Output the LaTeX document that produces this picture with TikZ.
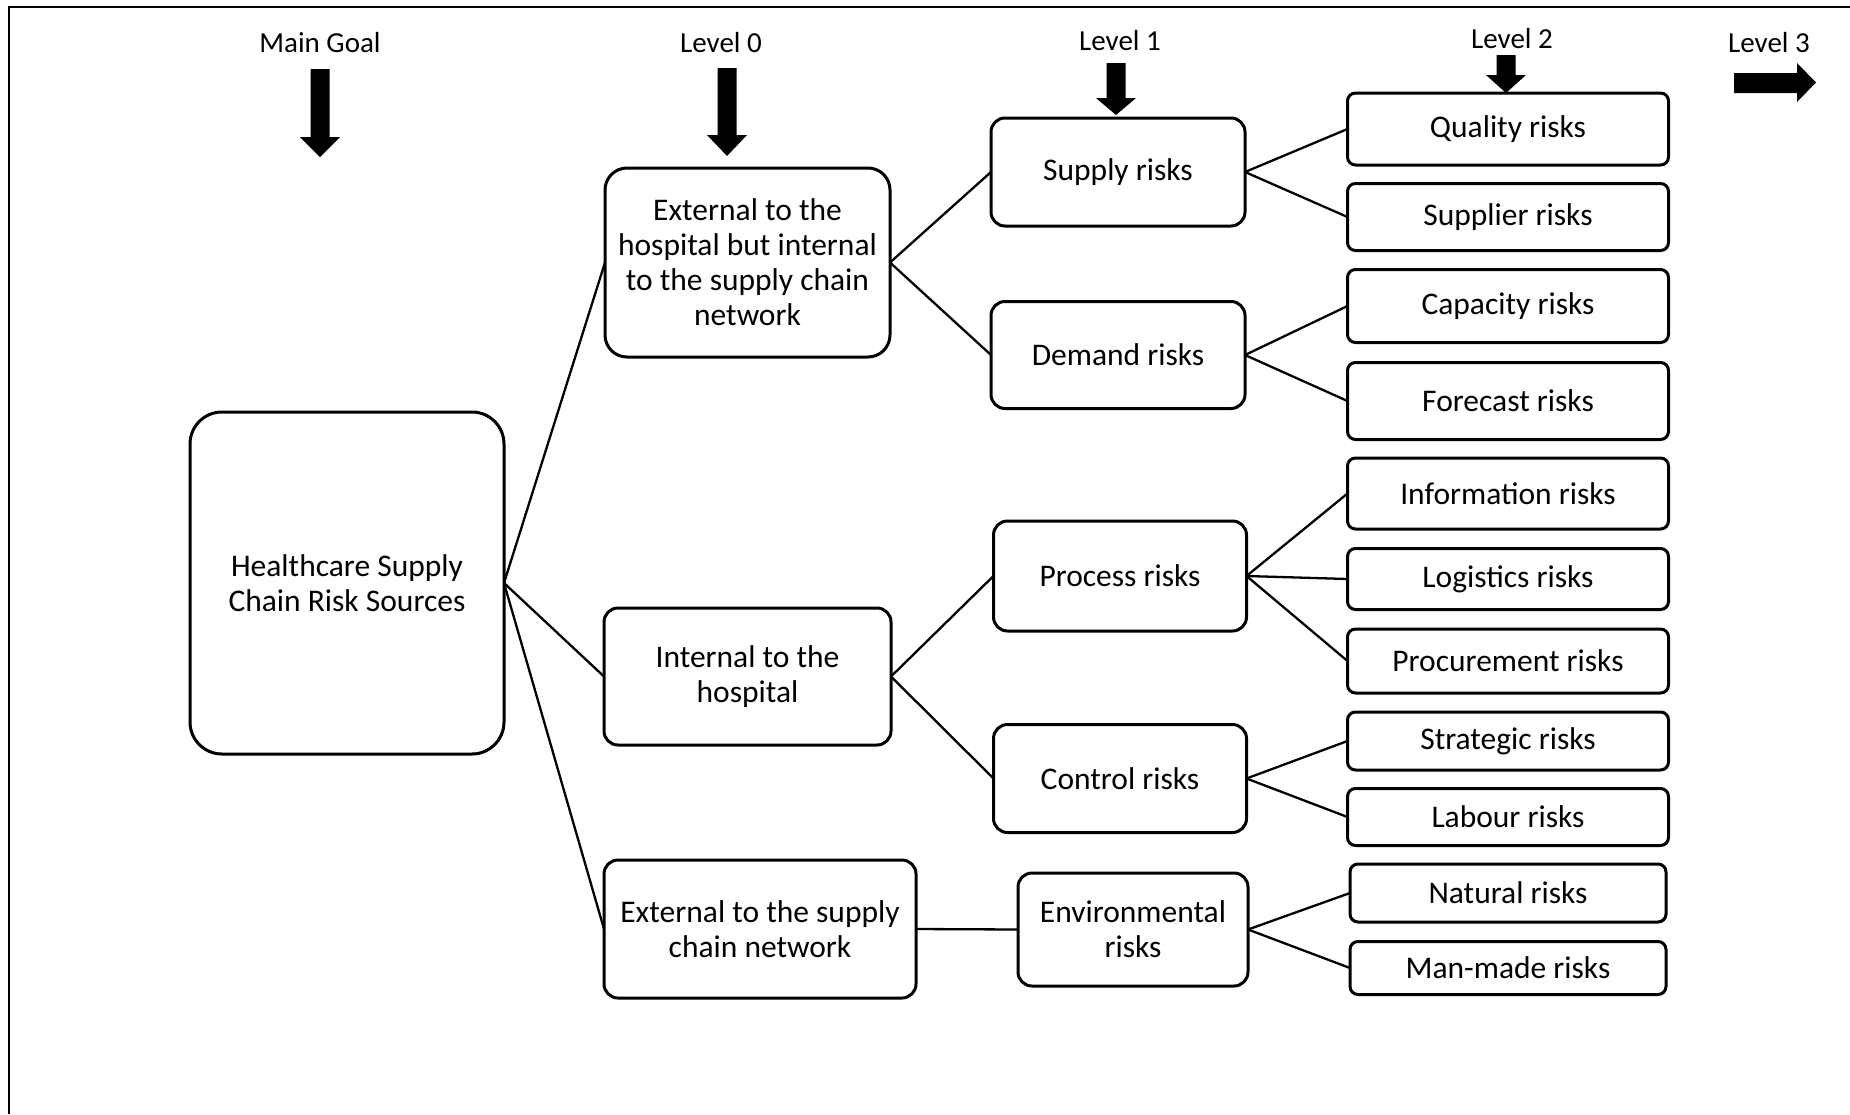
\documentclass[tikz,border=0pt]{standalone}
\usepackage{fontspec}
\setmainfont{Carlito}
\usetikzlibrary{positioning}

% thick block arrow pointing down: x, shaft top, head base, tip
\newcommand{\levelarrow}[4]{%
  \fill (#1-9.5,#2) -- (#1+9.5,#2) -- (#1+9.5,#3) -- (#1+20,#3) -- (#1,#4)
    -- (#1-20,#3) -- (#1-9.5,#3) -- cycle;}

\begin{document}
\begin{tikzpicture}[x=1pt,y=-1pt,line width=2pt]
	\tikzset{box/.style={draw,line width=3pt,rounded corners=#1,align=center,inner sep=0pt,outer sep=0pt,
		font=\fontsize{31.5}{35}\selectfont},box/.default=8pt}
	\tikzset{dims/.style 2 args={minimum width=#1pt,minimum height=#2pt}}
	\tikzset{level/.style={anchor=base,font=\fontsize{29}{34}\selectfont}}
	\tikzstyle{every edge}=[draw,line width=2.3pt]
	\useasboundingbox (0,0) rectangle (1850,1114);
	% Frame
	\draw (9,1114) -- (9,7) -- (1850,7);
	% Level headings
	\node[level] (goal) at (320,52) {Main Goal};
	\node[level] (lvl0) at (721,52) {Level 0};
	\node[level] (lvl1) at (1120,50) {Level 1};
	\node[level] (lvl2) at (1512,48) {Level 2};
	\node[level] (lvl3) at (1769,52) {Level 3};
	\levelarrow{320}{69}{137}{157}
	\levelarrow{727}{68}{135}{156}
	\levelarrow{1116}{63}{98}{115}
	\levelarrow{1506}{55}{75}{93}
	\fill (1734,73) -- (1797,73) -- (1797,63) -- (1816,82.5) -- (1797,102) -- (1797,93) -- (1734,93) -- cycle;
	% Main goal
	\node[box=32pt,dims={314}{342}] (root) at (347,583) {Healthcare Supply\\Chain Risk Sources};
	% Level 0
	\node[box=22pt,dims={285}{189}] (exth) at (747.5,262.5) {External to the\\hospital but internal\\to the supply chain\\network};
	\node[box=14pt,dims={287}{137}] (inth) at (747.5,676.5) {Internal to the\\hospital};
	\node[box=14pt,dims={312}{138}] (extsc) at (760,929) {External to the supply\\chain network};
	% Level 1
	\node[box=14pt,dims={254}{108}] (supply) at (1118,172) {Supply risks};
	\node[box=14pt,dims={254}{107}] (demand) at (1118,355) {Demand risks};
	\node[box=14pt,dims={253}{110}] (process) at (1120,576) {Process risks};
	\node[box=14pt,dims={253}{108}] (control) at (1120,778.5) {Control risks};
	\node[box=14pt,dims={230}{113}] (env) at (1133,929.5) {Environmental\\risks};
	% Level 2
	\node[box,dims={321}{72}] (quality) at (1508,129) {Quality risks};
	\node[box,dims={321}{67}] (supplier) at (1508,217) {Supplier risks};
	\node[box,dims={321}{73}] (capacity) at (1508,306) {Capacity risks};
	\node[box,dims={321}{77}] (forecast) at (1508,401) {Forecast risks};
	\node[box,dims={321}{71}] (info) at (1508,493.5) {Information risks};
	\node[box,dims={321}{61}] (logistics) at (1508,579) {Logistics risks};
	\node[box,dims={321}{64}] (procure) at (1508,661) {Procurement risks};
	\node[box,dims={321}{58}] (strategic) at (1508,741) {Strategic risks};
	\node[box,dims={321}{57}] (labour) at (1508,817) {Labour risks};
	\node[box,dims={316}{58}] (natural) at (1508,893) {Natural risks};
	\node[box,dims={316}{53}] (manmade) at (1508,968) {Man-made risks};
	% Branches
	\path
	(root.east) edge (exth.west)
	(root.east) edge (inth.west)
	(root.east) edge (extsc.west)
	(exth.east) edge (supply.west)
	(exth.east) edge (demand.west)
	(inth.east) edge (process.west)
	(inth.east) edge (control.west)
	(extsc.east) edge (env.west)
	(supply.east) edge (quality.west)
	(supply.east) edge (supplier.west)
	(demand.east) edge (capacity.west)
	(demand.east) edge (forecast.west)
	(process.east) edge (info.west)
	(process.east) edge (logistics.west)
	(process.east) edge (procure.west)
	(control.east) edge (strategic.west)
	(control.east) edge (labour.west)
	(env.east) edge (natural.west)
	(env.east) edge (manmade.west);
\end{tikzpicture}
\end{document}
